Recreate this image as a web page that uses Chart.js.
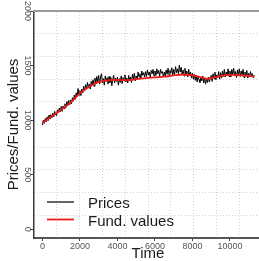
<!DOCTYPE html>
<html><head><meta charset="utf-8">
<script src="https://cdn.jsdelivr.net/npm/chart.js@4.4.1/dist/chart.umd.min.js"></script>
<style>
html,body{margin:0;padding:0;overflow:hidden;background:#fff;width:259px;height:261px}
#wrap{position:absolute;left:0;top:0;width:263px;height:261px}
</style></head><body>
<div id="wrap"><canvas id="c" width="263" height="261"></canvas></div>
<script>
// ---- data ----
const seriesNames = ['Prices', 'Fund. values'];
const priceStep = 50; // time units between successive price observations
const prices = [
  955, 1000, 970, 1015, 985, 1030, 995, 1045, 1010, 1050,
  1020, 1065, 1030, 1080, 1050, 1040, 1095, 1070, 1110, 1075,
  1125, 1080, 1130, 1105, 1150, 1115, 1170, 1135, 1180, 1140,
  1185, 1150, 1205, 1175, 1230, 1190, 1250, 1215, 1290, 1230,
  1270, 1225, 1285, 1250, 1310, 1270, 1325, 1290, 1345, 1295,
  1330, 1285, 1355, 1320, 1370, 1310, 1385, 1335, 1400, 1345,
  1410, 1330, 1395, 1425, 1340, 1380, 1320, 1405, 1355, 1390,
  1330, 1400, 1345, 1390, 1315, 1375, 1410, 1340, 1385, 1355,
  1395, 1320, 1380, 1345, 1405, 1335, 1390, 1360, 1415, 1350,
  1385, 1340, 1410, 1365, 1395, 1345, 1420, 1375, 1430, 1360,
  1405, 1370, 1440, 1395, 1425, 1380, 1450, 1410, 1435, 1395,
  1445, 1400, 1460, 1415, 1440, 1390, 1455, 1425, 1465, 1405,
  1450, 1410, 1470, 1425, 1455, 1400, 1465, 1430, 1445, 1395,
  1440, 1405, 1460, 1420, 1475, 1415, 1455, 1430, 1480, 1410,
  1465, 1420, 1490, 1435, 1470, 1425, 1505, 1440, 1485, 1415,
  1460, 1405, 1475, 1420, 1450, 1395, 1465, 1410, 1440, 1385,
  1430, 1375, 1420, 1365, 1410, 1350, 1400, 1370, 1345, 1395,
  1360, 1405, 1340, 1385, 1330, 1375, 1345, 1395, 1350, 1380,
  1410, 1355, 1425, 1380, 1440, 1370, 1415, 1390, 1445, 1375,
  1435, 1385, 1450, 1400, 1465, 1395, 1440, 1410, 1470, 1400,
  1450, 1395, 1465, 1420, 1475, 1405, 1445, 1390, 1460, 1415,
  1470, 1400, 1450, 1415, 1465, 1390, 1440, 1410, 1455, 1385,
  1430, 1395, 1445, 1405, 1425, 1390, 1410
];
const fundTimes  = [0, 500, 1000, 1500, 2000, 2500, 3000, 3500, 4000, 4500, 5000, 5500, 6000, 6500, 7000, 7500, 8000, 8500, 8800, 9000, 9500, 10000, 10500, 11000, 11300];
const fundValues = [977, 1035, 1095, 1160, 1245, 1305, 1350, 1365, 1368, 1366, 1375, 1384, 1392, 1398, 1410, 1418, 1410, 1392, 1378, 1385, 1403, 1414, 1410, 1405, 1399];
const xTickValues = [0, 2000, 4000, 6000, 8000, 10000];
const yTickValues = [0, 500, 1000, 1500, 2000];

// ---- styling / layout ----
const FONT = '"Liberation Sans", Arial, Helvetica, sans-serif';
Chart.defaults.font.family = FONT;
const xMin = -450, xMax = 11710, yMin = -80, yMax = 2000, gridDivs = 10;
const gridColor = '#d2d2d2';

function evenGrid(min, max, n) {
  const out = [];
  for (let k = 1; k < n; k++) out.push({ value: min + (max - min) * k / n });
  return out;
}

const insetLegend = {
  id: 'insetLegend',
  afterDatasetsDraw(chart) {
    const ctx = chart.ctx, a = chart.chartArea;
    const x0 = a.left + 13, x1 = a.left + 40, tx = a.left + 54;
    const y0 = a.bottom - 36, dy = 17.5;
    ctx.save();
    ctx.font = '15px ' + FONT;
    ctx.textAlign = 'left';
    ctx.textBaseline = 'middle';
    chart.data.datasets.forEach((ds, i) => {
      const y = y0 + i * dy;
      ctx.strokeStyle = ds.borderColor;
      ctx.lineWidth = ds.legendWidth;
      ctx.beginPath(); ctx.moveTo(x0, y); ctx.lineTo(x1, y); ctx.stroke();
      ctx.fillStyle = '#1a1a1a';
      ctx.fillText(ds.label, tx, y + 2);
    });
    ctx.restore();
  }
};

new Chart(document.getElementById('c'), {
  type: 'line',
  data: {
    datasets: [
      { label: seriesNames[0], data: prices.map((v, i) => ({ x: i * priceStep, y: v })),
        borderColor: '#000000', borderWidth: 1, legendWidth: 1.2, pointRadius: 0, order: 2, xAxisID: 'x', yAxisID: 'y' },
      { label: seriesNames[1], data: fundTimes.map((t, i) => ({ x: t, y: fundValues[i] })),
        borderColor: '#ee1b1b', borderWidth: 1.8, legendWidth: 1.8, pointRadius: 0, tension: 0.3, order: 1, xAxisID: 'x', yAxisID: 'y' }
    ]
  },
  options: {
    responsive: false, animation: false, devicePixelRatio: 1,
    layout: { padding: { left: 0, top: 11, right: 1, bottom: 0 } },
    plugins: { legend: { display: false }, tooltip: { enabled: false } },
    scales: {
      x: {
        type: 'linear', position: 'bottom', min: xMin, max: xMax,
        afterBuildTicks: s => { s.ticks = xTickValues.map(v => ({ value: v })); },
        afterFit: s => { s.height = 23; s.paddingLeft = 0; s.paddingRight = 0; },
        grid: { display: true, drawOnChartArea: false, drawTicks: true, tickLength: 3, color: '#444' },
        border: { display: true, color: '#555', width: 2 },
        ticks: { font: { size: 9 }, color: '#555', padding: 0, maxRotation: 0, autoSkip: false, callback: v => String(v) },
        title: { display: true, text: 'Time', font: { size: 15 }, color: '#1a1a1a', padding: { top: 0, bottom: -2 } }
      },
      y: {
        type: 'linear', position: 'left', min: yMin, max: yMax,
        afterBuildTicks: s => { s.ticks = yTickValues.map(v => ({ value: v })); },
        afterFit: s => { s.width = 34; s.paddingTop = 0; s.paddingBottom = 0; },
        grid: { display: true, drawOnChartArea: false, drawTicks: true, tickLength: 4, color: '#444' },
        border: { display: true, color: '#3a3a3a', width: 1.5 },
        ticks: { font: { size: 9 }, color: '#555', minRotation: -90, maxRotation: -90, crossAlign: 'center', padding: -7.5, autoSkip: false, callback: v => String(v) },
        title: { display: true, text: 'Prices/Fund. values', font: { size: 15 }, color: '#1a1a1a', padding: { top: 5, bottom: 0 } }
      },
      gx: {
        type: 'linear', position: 'top', min: xMin, max: xMax,
        afterBuildTicks: s => { s.ticks = evenGrid(xMin, xMax, gridDivs); },
        afterFit: s => { s.height = 0; s.paddingLeft = 0; s.paddingRight = 0; },
        ticks: { display: false },
        grid: { display: true, drawTicks: false, color: gridColor, lineWidth: 1 },
        border: { display: true, color: '#9a9a9a', width: 2, dash: [1, 2] }
      },
      gy: {
        type: 'linear', position: 'right', min: yMin, max: yMax,
        afterBuildTicks: s => { s.ticks = evenGrid(yMin, yMax, gridDivs); },
        afterFit: s => { s.width = 0; s.paddingTop = 0; s.paddingBottom = 0; },
        ticks: { display: false },
        grid: { display: true, drawTicks: false, color: gridColor, lineWidth: 1 },
        border: { display: false, dash: [1, 2] }
      }
    }
  },
  plugins: [insetLegend]
});
</script>
</body></html>
